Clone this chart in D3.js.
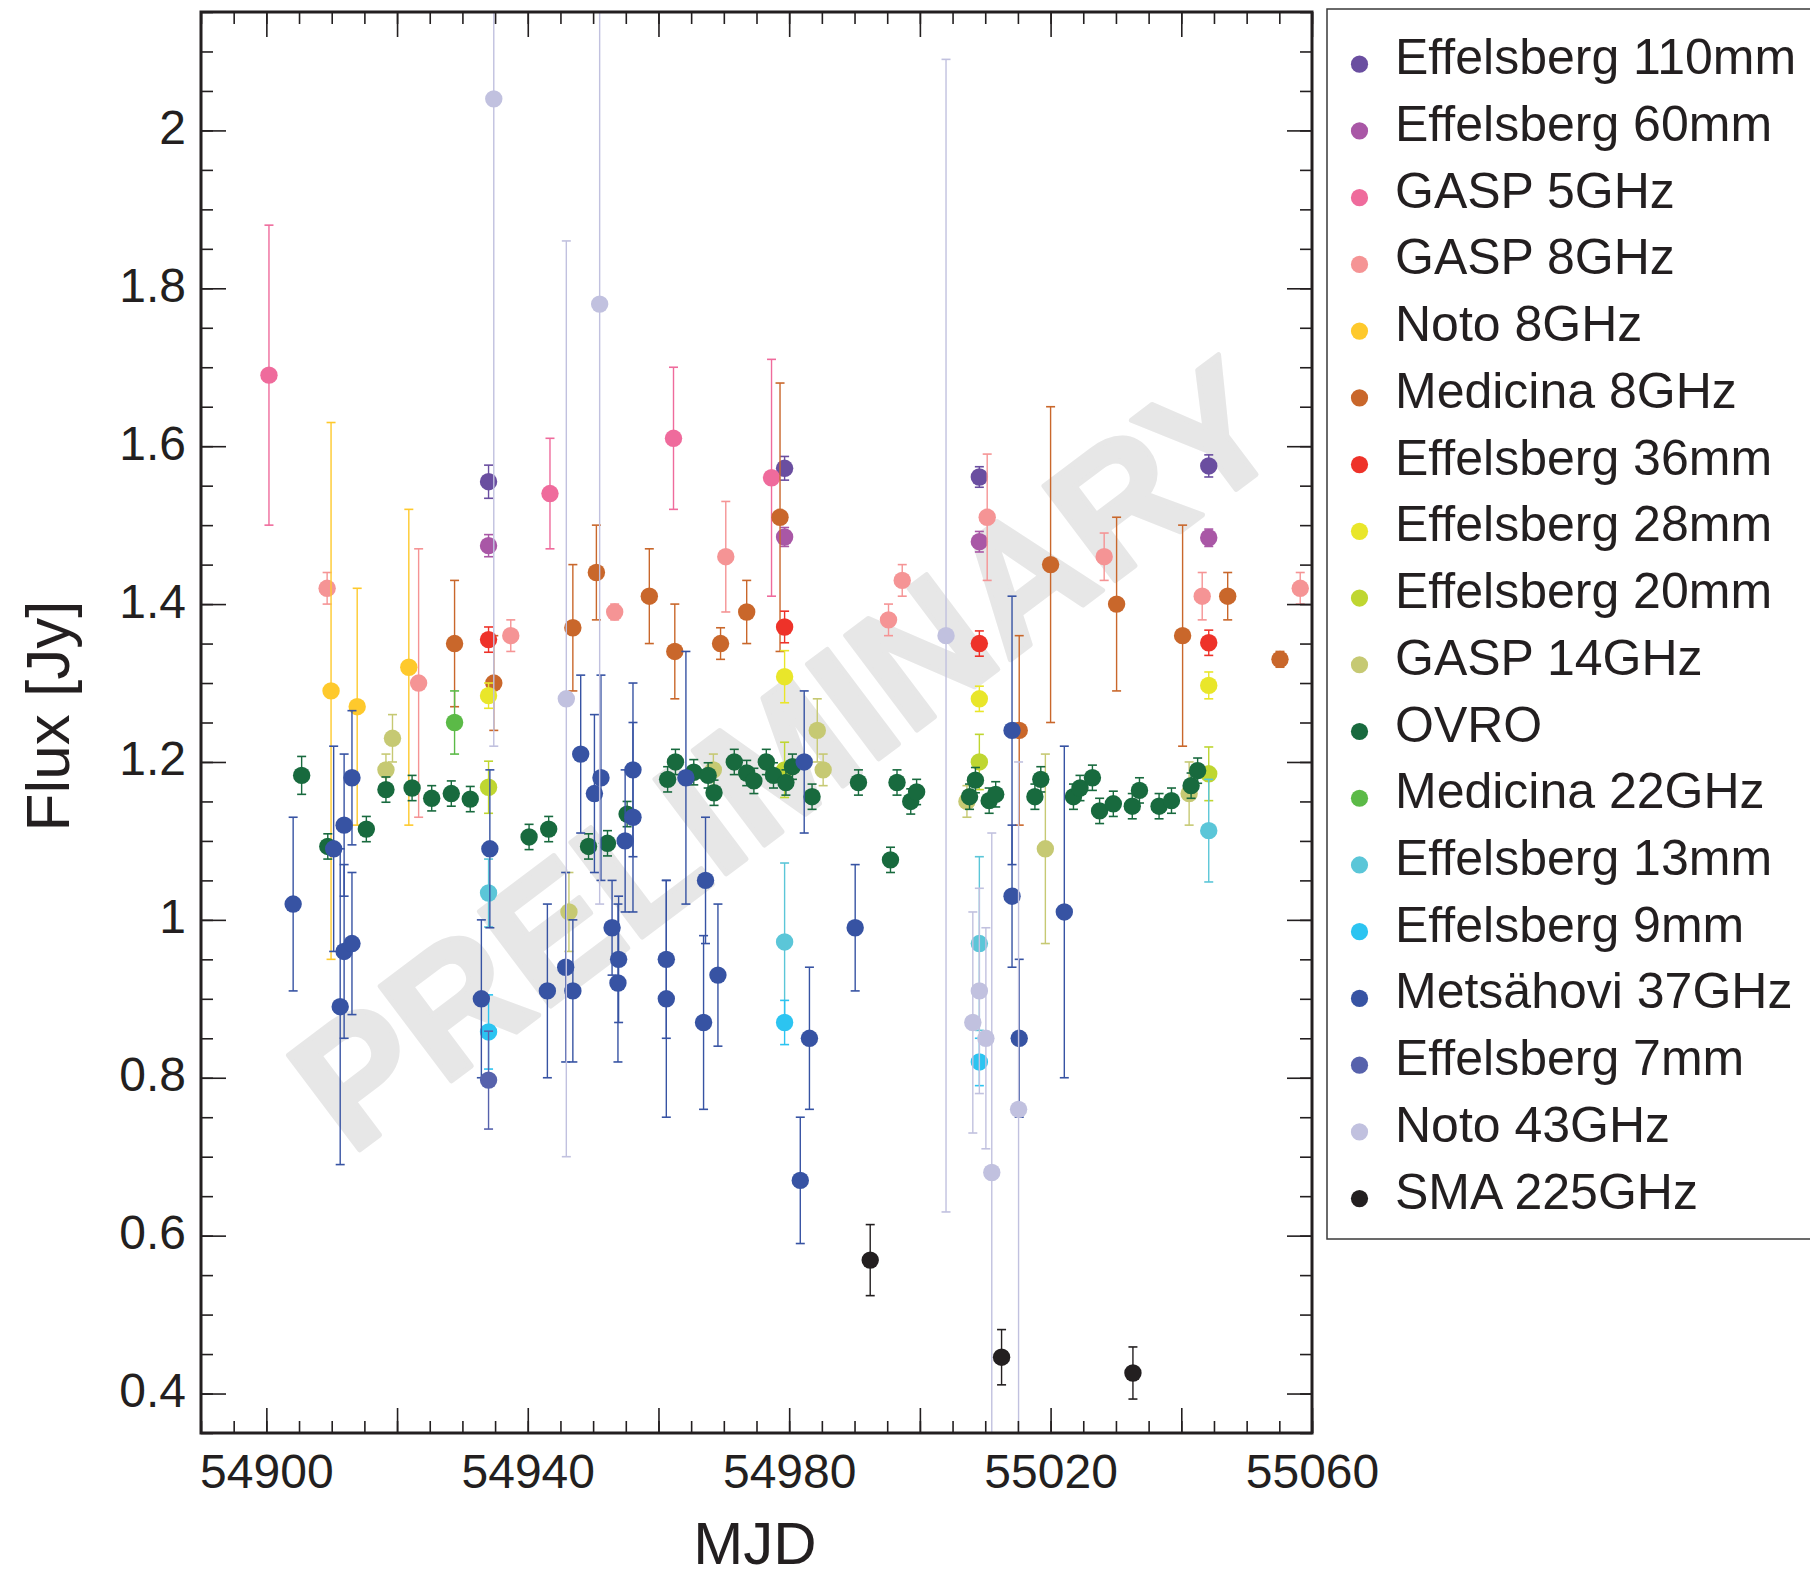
<!DOCTYPE html>
<html>
<head>
<meta charset="utf-8">
<script src="https://cdn.jsdelivr.net/npm/d3@7"></script>
<style>
  body { margin: 0; background: #fff; }
  text { font-family: "Liberation Sans", Arial, Helvetica, sans-serif; fill: #231f20; }
</style>
</head>
<body>
<div id="chart"></div>
<script>
/* multiwavelength radio light curve, MJD vs flux */

// tick labels
var xTickLabels = [54900, 54940, 54980, 55020, 55060];
var yTickLabels = [0.4, 0.6, 0.8, 1, 1.2, 1.4, 1.6, 1.8, 2];

// each point: [MJD, flux (Jy), error (Jy)]
var eff110 = [[54934.0, 1.555, 0.021], [54979.3, 1.572, 0.015], [55009.1, 1.561, 0.013], [55044.2, 1.575, 0.014]];
var eff60 = [[54934.0, 1.474, 0.014], [54979.3, 1.485, 0.012], [55009.1, 1.479, 0.013], [55044.2, 1.484, 0.011]];
var gasp5 = [[54900.4, 1.69, 0.19], [54943.4, 1.54, 0.07], [54962.3, 1.61, 0.09], [54977.3, 1.56, 0.15]];
var gasp8 = [[54909.3, 1.42, 0.02], [54923.3, 1.30, 0.17], [54937.4, 1.36, 0.02], [54953.3, 1.39, 0.01],
             [54970.3, 1.46, 0.07], [54995.2, 1.38, 0.02], [54997.3, 1.43, 0.02], [55010.3, 1.51, 0.08],
             [55028.2, 1.46, 0.03], [55043.2, 1.41, 0.03], [55058.2, 1.42, 0.02]];
var noto8 = [[54909.9, 1.29, 0.34], [54913.9, 1.27, 0.15], [54921.8, 1.32, 0.20]];
var medicina8 = [[54928.8, 1.35, 0.08], [54934.8, 1.30, 0.06], [54946.9, 1.37, 0.08], [54950.5, 1.44, 0.06],
                 [54958.6, 1.41, 0.06], [54962.5, 1.34, 0.06], [54969.5, 1.35, 0.02], [54973.5, 1.39, 0.04],
                 [54978.6, 1.51, 0.17], [55015.2, 1.24, 0.12], [55020.0, 1.45, 0.20], [55030.1, 1.40, 0.11],
                 [55040.2, 1.36, 0.14], [55047.1, 1.41, 0.03], [55055.1, 1.33, 0.01]];
var eff36 = [[54934.0, 1.355, 0.016], [54979.3, 1.371, 0.020], [55009.1, 1.350, 0.016], [55044.2, 1.351, 0.016]];
var eff28 = [[54934.0, 1.284, 0.016], [54979.3, 1.308, 0.033], [55009.1, 1.280, 0.016], [55044.2, 1.297, 0.017]];
var eff20 = [[54934.0, 1.168, 0.033], [54979.3, 1.190, 0.035], [55009.1, 1.200, 0.035], [55044.2, 1.185, 0.034]];
var gasp14 = [[54918.3, 1.19, 0.02], [54919.3, 1.23, 0.03], [54946.3, 1.01, 0.05], [54968.4, 1.19, 0.02],
              [54984.3, 1.24, 0.04], [54985.2, 1.19, 0.02], [55007.2, 1.15, 0.02], [55019.2, 1.09, 0.12],
              [55041.2, 1.16, 0.04]];
var ovro = [[54905.4, 1.183, 0.024], [54909.4, 1.093, 0.016], [54915.3, 1.115, 0.016], [54918.3, 1.165, 0.016],
            [54922.3, 1.167, 0.016], [54925.3, 1.154, 0.016], [54928.3, 1.160, 0.016], [54931.2, 1.153, 0.016],
            [54940.2, 1.105, 0.016], [54943.2, 1.115, 0.016], [54949.3, 1.093, 0.016], [54952.2, 1.097, 0.016],
            [54955.2, 1.134, 0.016], [54961.4, 1.178, 0.016], [54962.6, 1.200, 0.016], [54965.4, 1.187, 0.016],
            [54967.6, 1.183, 0.016], [54968.5, 1.161, 0.016], [54971.6, 1.200, 0.016], [54973.5, 1.186, 0.016],
            [54974.6, 1.176, 0.016], [54976.5, 1.200, 0.016], [54977.6, 1.183, 0.016], [54979.5, 1.174, 0.016],
            [54980.5, 1.194, 0.016], [54983.5, 1.156, 0.016], [54990.6, 1.174, 0.016], [54995.5, 1.076, 0.016],
            [54996.5, 1.174, 0.016], [54998.6, 1.150, 0.016], [54999.5, 1.162, 0.016], [55007.6, 1.156, 0.016],
            [55008.5, 1.177, 0.016], [55010.6, 1.151, 0.016], [55011.6, 1.159, 0.016], [55017.6, 1.156, 0.016],
            [55018.5, 1.178, 0.016], [55023.5, 1.156, 0.016], [55024.5, 1.167, 0.016], [55026.4, 1.180, 0.016],
            [55027.5, 1.138, 0.016], [55029.6, 1.147, 0.016], [55032.5, 1.144, 0.016], [55033.6, 1.164, 0.016],
            [55036.6, 1.144, 0.016], [55038.5, 1.151, 0.016], [55041.5, 1.170, 0.016], [55042.5, 1.189, 0.016]];
var medicina22 = [[54928.8, 1.25, 0.04]];
var eff13 = [[54934.0, 1.034, 0.043], [54979.3, 0.972, 0.10], [55009.1, 0.970, 0.11], [55044.2, 1.113, 0.065]];
var eff9 = [[54934.0, 0.858, 0.047], [54979.3, 0.870, 0.028], [55009.1, 0.820, 0.030]];
var metsahovi = [[54904.1, 1.02, 0.11], [54910.3, 1.09, 0.13], [54911.3, 0.89, 0.20], [54911.9, 1.12, 0.09],
                 [54911.9, 0.96, 0.11], [54913.1, 1.18, 0.085], [54913.1, 0.97, 0.09], [54932.9, 0.90, 0.10],
                 [54934.2, 1.09, 0.10], [54943.0, 0.91, 0.11], [54945.8, 0.94, 0.12], [54946.9, 0.91, 0.09],
                 [54948.1, 1.21, 0.10], [54950.2, 1.16, 0.10], [54951.2, 1.18, 0.13], [54952.9, 0.99, 0.06],
                 [54953.8, 0.92, 0.10], [54953.9, 0.95, 0.08], [54954.9, 1.10, 0.09], [54956.1, 1.19, 0.11],
                 [54956.1, 1.13, 0.12], [54961.2, 0.95, 0.10], [54961.2, 0.90, 0.15], [54964.2, 1.18, 0.16],
                 [54966.9, 0.87, 0.11], [54967.2, 1.05, 0.08], [54969.1, 0.93, 0.09], [54981.7, 0.67, 0.08],
                 [54982.3, 1.20, 0.09], [54983.1, 0.85, 0.09], [54990.1, 0.99, 0.08], [55014.1, 1.24, 0.17],
                 [55014.1, 1.03, 0.09], [55015.2, 0.85, 0.10], [55022.1, 1.01, 0.21]];
var eff7 = [[54934.0, 0.797, 0.062]];
var noto43 = [[54934.8, 2.04, 0.82], [54945.9, 1.28, 0.58], [54951.0, 1.78, 0.76], [55004.0, 1.36, 0.73],
              [55008.1, 0.87, 0.14], [55009.1, 0.91, 0.13], [55010.1, 0.85, 0.14], [55011.0, 0.68, 0.43],
              [55015.1, 0.76, 0.44]];
var sma225 = [[54992.4, 0.569, 0.045], [55012.5, 0.446, 0.035], [55032.6, 0.426, 0.033]];

var seriesNames = ["Effelsberg 110mm", "Effelsberg 60mm", "GASP 5GHz", "GASP 8GHz", "Noto 8GHz",
                   "Medicina 8GHz", "Effelsberg 36mm", "Effelsberg 28mm", "Effelsberg 20mm", "GASP 14GHz",
                   "OVRO", "Medicina 22GHz", "Effelsberg 13mm", "Effelsberg 9mm", "Metsähovi 37GHz",
                   "Effelsberg 7mm", "Noto 43GHz", "SMA 225GHz"];
var seriesData = [eff110, eff60, gasp5, gasp8, noto8, medicina8, eff36, eff28, eff20, gasp14,
                  ovro, medicina22, eff13, eff9, metsahovi, eff7, noto43, sma225];
var seriesColors = ["#6a4ea0", "#a957a6", "#ef6b9c", "#f59495", "#fec92c", "#c9672b", "#ee3229",
                    "#e9e62a", "#bfd631", "#c6c973", "#186a3e", "#5bba47", "#5bc6d8", "#2cc4f1",
                    "#3753a3", "#5762ac", "#c1c1df", "#231f20"];

// layout
var plot = {left: 201, right: 1312, top: 12, bottom: 1433};
var ink = "#231f20";

var svg = d3.select("#chart").append("svg")
            .attr("width", 1810)
            .attr("height", 1580);

var x = d3.scaleLinear().domain([54890, 55060]).range([plot.left, plot.right]);
var y = d3.scaleLinear().domain([0.35, 2.15]).range([plot.bottom, plot.top]);

svg.append("clipPath").attr("id", "plotclip")
   .append("rect")
   .attr("x", plot.left).attr("y", plot.top)
   .attr("width", plot.right - plot.left)
   .attr("height", plot.bottom - plot.top);

// watermark, behind the data
svg.append("text")
   .attr("transform", "translate(785,754) rotate(-37)")
   .attr("text-anchor", "middle")
   .attr("dy", "0.35em")
   .style("font-size", "172px")
   .style("font-weight", "bold")
   .style("fill", "#e7e7e7")
   .style("stroke", "#e7e7e7")
   .style("stroke-width", 5)
   .style("stroke-linejoin", "round")
   .text("PRELIMINARY");

// Draw series: error bars, then points
var dataLayer = svg.append("g").attr("clip-path", "url(#plotclip)");
var capHalf = 4.5;

seriesData.forEach(function(series, i) {
  var g = dataLayer.append("g").attr("class", "series");
  var color = seriesColors[i];

  g.selectAll("line.bar")
    .data(series)
    .enter()
    .append("line")
    .attr("class", "bar")
    .attr("x1", function(d) { return x(d[0]); })
    .attr("x2", function(d) { return x(d[0]); })
    .attr("y1", function(d) { return y(d[1] + d[2]); })
    .attr("y2", function(d) { return y(d[1] - d[2]); })
    .attr("stroke", color)
    .attr("stroke-width", 1.4);

  // caps on both ends
  [1, -1].forEach(function(sign) {
    g.selectAll("line.cap" + (sign > 0 ? "t" : "b"))
      .data(series)
      .enter()
      .append("line")
      .attr("class", "cap" + (sign > 0 ? "t" : "b"))
      .attr("x1", function(d) { return x(d[0]) - capHalf; })
      .attr("x2", function(d) { return x(d[0]) + capHalf; })
      .attr("y1", function(d) { return y(d[1] + sign * d[2]); })
      .attr("y2", function(d) { return y(d[1] + sign * d[2]); })
      .attr("stroke", color)
      .attr("stroke-width", 1.6);
  });

  g.selectAll("circle")
    .data(series)
    .enter()
    .append("circle")
    .attr("cx", function(d) { return x(d[0]); })
    .attr("cy", function(d) { return y(d[1]); })
    .attr("r", 8.7)
    .attr("fill", color);
});

// Axes, ticks pointing inward on all four sides
function isLabel(list, d) {
  return list.some(function(v) { return Math.abs(v - d) < 1e-9; });
}

function drawAxis(axis, transform, values, len, fmt, pad) {
  var g = svg.append("g")
             .attr("transform", transform)
             .call(axis.tickValues(values).tickSize(-len).tickSizeOuter(0)
                       .tickPadding(pad || 3).tickFormat(fmt || ""));
  g.select(".domain").remove();
  g.selectAll("line").attr("stroke", ink).attr("stroke-width", 1.6);
  g.selectAll("text").style("font-size", "48px");
  return g;
}

var xMinor = d3.range(54890, 55061, 5);
var xMajor = d3.range(54900, 55061, 20);
var yMinor = d3.range(7, 44).map(function(i) { return +(i * 0.05).toFixed(2); });

var xFmt = function(d) { return isLabel(xTickLabels, d) ? d : ""; };
var yFmt = function(d) { return isLabel(yTickLabels, d) ? String(+d.toFixed(1)) : ""; };

// bottom
drawAxis(d3.axisBottom(x), "translate(0," + plot.bottom + ")", xMinor, 12);
drawAxis(d3.axisBottom(x), "translate(0," + plot.bottom + ")", xMajor, 25, xFmt, 21);
// top
drawAxis(d3.axisTop(x), "translate(0," + plot.top + ")", xMinor, 12);
drawAxis(d3.axisTop(x), "translate(0," + plot.top + ")", xMajor, 25);
// left
drawAxis(d3.axisLeft(y), "translate(" + plot.left + ",0)", yMinor, 12);
drawAxis(d3.axisLeft(y), "translate(" + plot.left + ",0)", yTickLabels, 25, yFmt, 15)
  .selectAll("text").attr("dy", "0.27em");
// right
drawAxis(d3.axisRight(y), "translate(" + plot.right + ",0)", yMinor, 12);
drawAxis(d3.axisRight(y), "translate(" + plot.right + ",0)", yTickLabels, 25);

// frame
svg.append("rect")
   .attr("x", plot.left).attr("y", plot.top)
   .attr("width", plot.right - plot.left)
   .attr("height", plot.bottom - plot.top)
   .attr("fill", "none")
   .attr("stroke", ink)
   .attr("stroke-width", 3);

// axis titles
svg.append("text")
   .attr("x", 755).attr("y", 1564)
   .attr("text-anchor", "middle")
   .style("font-size", "60px")
   .text("MJD");

svg.append("text")
   .attr("transform", "translate(69,716) rotate(-90)")
   .attr("text-anchor", "middle")
   .style("font-size", "62px")
   .text("Flux [Jy]");

// Legend
var legend = svg.append("g");
legend.append("rect")
      .attr("x", 1327).attr("y", 9)
      .attr("width", 520).attr("height", 1230)
      .attr("fill", "none")
      .attr("stroke", "#3a3a3a")
      .attr("stroke-width", 1.5);

var rows = legend.selectAll("g.row")
                 .data(seriesNames)
                 .enter()
                 .append("g")
                 .attr("class", "row")
                 .attr("transform", function(d, i) {
                   return "translate(0," + (64.2 + i * 66.73) + ")";
                 });

rows.append("circle")
    .attr("cx", 1359.5)
    .attr("cy", 0)
    .attr("r", 8.6)
    .attr("fill", function(d, i) { return seriesColors[i]; });

rows.append("text")
    .attr("x", 1395)
    .attr("y", 10)
    .style("font-size", "50px")
    .text(function(d) { return d; });
</script>
</body>
</html>
